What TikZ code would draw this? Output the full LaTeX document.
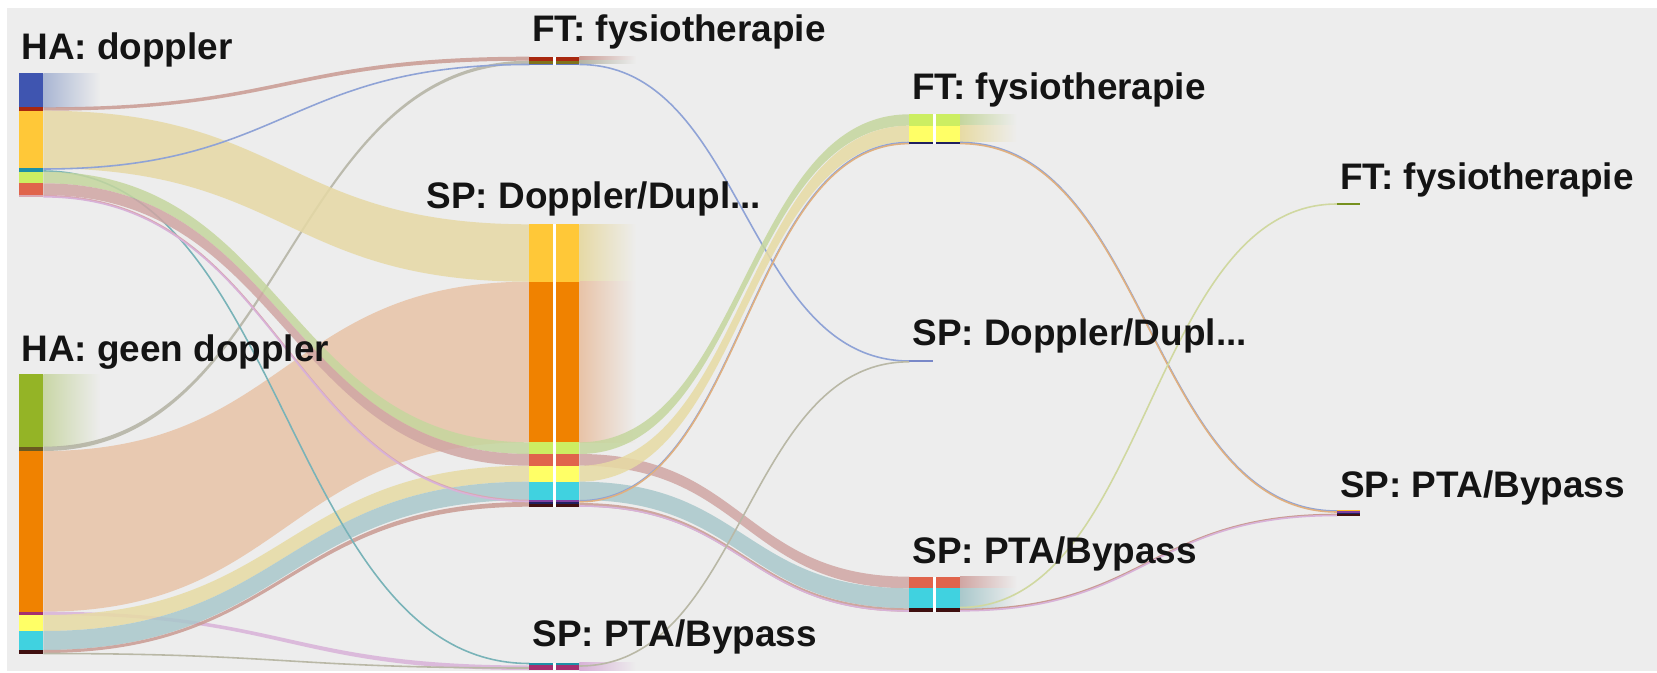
\documentclass[tikz,border=0pt]{standalone}
\usepackage{fontspec}
\setmainfont{Liberation Sans}
\usetikzlibrary{positioning}

% node colours
\definecolor{bgcol}{HTML}{EDEDED}
\definecolor{nblue}{HTML}{3F55B0}
\definecolor{ndred}{HTML}{A8280F}
\definecolor{ngold}{HTML}{FFC838}
\definecolor{nteal}{HTML}{1E90A6}
\definecolor{nlime}{HTML}{CCEE62}
\definecolor{ncoral}{HTML}{E0644C}
\definecolor{nolive}{HTML}{94B426}
\definecolor{ndolive}{HTML}{6A5A20}
\definecolor{norange}{HTML}{F08200}
\definecolor{nmagenta}{HTML}{A43070}
\definecolor{nyellow}{HTML}{FFFF66}
\definecolor{ncyan}{HTML}{40D2E0}
\definecolor{ndark}{HTML}{401010}
\definecolor{nnavy}{HTML}{202060}
\definecolor{npurple}{HTML}{8040A0}
% flow colours
\definecolor{fblue}{HTML}{A9B6D3}
\definecolor{fgreen}{HTML}{C9D6A6}
\definecolor{fred}{HTML}{C99A92}
\definecolor{folive}{HTML}{B3B2A2}
\definecolor{fgold}{HTML}{E6D9A5}
\definecolor{forange}{HTML}{E8C3A7}
\definecolor{fmagenta}{HTML}{D8B2D8}
\definecolor{flime}{HTML}{C5D69E}
\definecolor{fyellow}{HTML}{E7DBA4}
\definecolor{fcoral}{HTML}{D0A6A3}
\definecolor{fcyan}{HTML}{A9C8CB}
\definecolor{fgray}{HTML}{B9B8A6}
\definecolor{fteal}{HTML}{79B3B8}
\definecolor{fline}{HTML}{8FA3D6}
\definecolor{fpink}{HTML}{D9A7B3}
\definecolor{forline}{HTML}{E0B080}
\definecolor{folline}{HTML}{D0D8A0}

% band between two bars: x1, y1 top, y1 bottom, x2, y2 top, y2 bottom, colour
\newcommand{\flow}[7]{%
	\pgfmathsetmacro{\xm}{(#1+#4)/2}%
	\fill[#7, fill opacity=.85] (#1,#2) .. controls (\xm,#2) and (\xm,#5) .. (#4,#5)
	-- (#4,#6) .. controls (\xm,#6) and (\xm,#3) .. (#1,#3) -- cycle;}
% thin flow: x1, y1, x2, y2, colour
\newcommand{\thinflow}[5]{%
	\pgfmathsetmacro{\xm}{(#1+#3)/2}%
	\draw[#5, line width=.45pt] (#1,#2) .. controls (\xm,#2) and (\xm,#4) .. (#3,#4);}
% fading end of a flow: x, y top, y bottom, colour
\newcommand{\dropout}[4]{%
	\pgfmathsetmacro{\xe}{#1+57}%
	\shade[left color=#4, right color=bgcol] (#1,#2) rectangle (\xe,#3);}
% piece of a bar: x left, x right, y top, y bottom, colour
\newcommand{\segm}[5]{\fill[#5] (#1,#2) rectangle (#3,#4);}

\tikzset{lbl/.style={anchor=base west, inner sep=0pt,
		font=\bfseries\fontsize{10.5}{12}\selectfont, text=black!92}}

\begin{document}
\begin{tikzpicture}[x=0.01cm, y=-0.01cm]
	% background
	\fill[white] (0,0) rectangle (1657,673);
	\fill[bgcol] (7,8) rectangle (1657,671);
	
	% ends of the flows
	\dropout{43.3}{73.3}{107.3}{fblue}
	\dropout{43.3}{374.3}{446.7}{fgreen}
	\dropout{579.3}{56.7}{60.7}{fred}
	\dropout{579.3}{60.7}{64}{folive}
	\dropout{579.3}{224.3}{281.7}{fgold}
	\dropout{579.3}{281.7}{442.3}{forange}
	\dropout{579.3}{662.7}{670}{fmagenta}
	\dropout{960}{114.3}{125.7}{flime}
	\dropout{960}{125.7}{141.7}{fyellow}
	\dropout{960}{576.7}{588.3}{fcoral}
	\dropout{960}{588.3}{608.3}{fcyan}
	
	% HA: geen doppler -> second step
	\flow{43.3}{451}{611.7}{529.3}{281.7}{442.3}{forange}
	\flow{43.3}{446.7}{451}{529.3}{60.7}{64}{folive}
	\flow{43.3}{611.7}{615}{529.3}{665.5}{670}{fmagenta}
	\flow{43.3}{615}{631}{529.3}{465.7}{481.7}{fyellow}
	\flow{43.3}{631}{650}{529.3}{481.7}{500}{fcyan}
	\flow{43.3}{650}{653}{529.3}{502}{506.7}{fred}
	\thinflow{43.3}{653.5}{529.3}{668}{fgray}
	
	% HA: doppler -> second step
	\flow{43.3}{107.3}{110.7}{529.3}{56.7}{60.7}{fred}
	\flow{43.3}{110.7}{168.3}{529.3}{224.3}{281.7}{fgold}
	\thinflow{43.3}{169}{529.3}{64.5}{fline}
	\thinflow{43.3}{171}{529.3}{663.5}{fteal}
	\flow{43.3}{171.7}{183.3}{529.3}{442.3}{454}{flime}
	\flow{43.3}{183.3}{195}{529.3}{454}{465.7}{fcoral}
	\thinflow{43.3}{195.7}{529.3}{500.5}{fpink}
	\thinflow{43.3}{196.8}{529.3}{501.5}{fmagenta}
	
	% second step -> third step
	\thinflow{579.3}{64.5}{909.3}{361}{fline}
	\flow{579.3}{442.3}{454}{909.3}{114.3}{125.7}{flime}
	\flow{579.3}{454}{465.7}{909.3}{576.7}{588.3}{fcoral}
	\flow{579.3}{465.7}{481.7}{909.3}{125.7}{141.7}{fyellow}
	\flow{579.3}{481.7}{500}{909.3}{588.3}{608.3}{fcyan}
	\thinflow{579.3}{500.8}{909.3}{142.5}{fline}
	\thinflow{579.3}{501.8}{909.3}{143.6}{forline}
	\flow{579.3}{503}{506.7}{909.3}{608.3}{611.7}{fred}
	\thinflow{579.3}{506}{909.3}{611}{fmagenta}
	\thinflow{579.3}{666}{909.3}{361.8}{fgray}
	
	% third step -> fourth step
	\thinflow{960}{142.5}{1337}{511}{fline}
	\thinflow{960}{143.6}{1337}{512}{forline}
	\thinflow{960}{607.5}{1337}{204}{folline}
	\thinflow{960}{609.5}{1337}{514.5}{fred}
	\thinflow{960}{610.8}{1337}{515.5}{fmagenta}
	
	% first step: HA: doppler
	\segm{19}{73.3}{43.3}{107.3}{nblue}
	\segm{19}{107.3}{43.3}{110.7}{ndred}
	\segm{19}{110.7}{43.3}{168.3}{ngold}
	\segm{19}{168.3}{43.3}{171.7}{nteal}
	\segm{19}{171.7}{43.3}{183.3}{nlime}
	\segm{19}{183.3}{43.3}{195}{ncoral}
	\segm{19}{195}{43.3}{197.3}{fpink}
	% first step: HA: geen doppler
	\segm{19}{374.3}{43.3}{446.7}{nolive}
	\segm{19}{446.7}{43.3}{451}{ndolive}
	\segm{19}{451}{43.3}{611.7}{norange}
	\segm{19}{611.7}{43.3}{615}{nmagenta}
	\segm{19}{615}{43.3}{631}{nyellow}
	\segm{19}{631}{43.3}{650}{ncyan}
	\segm{19}{650}{43.3}{654}{ndark}
	
	% second step: FT
	\segm{529.3}{56.7}{579.3}{60.7}{ndred}
	\segm{529.3}{60.7}{579.3}{64}{ndolive!85!yellow}
	\segm{529.3}{64}{579.3}{65.2}{nblue!80}
	% second step: SP Doppler
	\segm{529.3}{224.3}{579.3}{281.7}{ngold}
	\segm{529.3}{281.7}{579.3}{442.3}{norange}
	\segm{529.3}{442.3}{579.3}{454}{nlime}
	\segm{529.3}{454}{579.3}{465.7}{ncoral}
	\segm{529.3}{465.7}{579.3}{481.7}{nyellow}
	\segm{529.3}{481.7}{579.3}{500}{ncyan}
	\segm{529.3}{500}{579.3}{502}{npurple}
	\segm{529.3}{502}{579.3}{504}{nnavy}
	\segm{529.3}{504}{579.3}{506.7}{ndark}
	% second step: SP PTA
	\segm{529.3}{662.7}{579.3}{665}{nteal}
	\segm{529.3}{665}{579.3}{670}{nmagenta}
	% gaps between in and out
	\fill[white] (552.7,56.7) rectangle (556,65.2);
	\fill[white] (552.7,224.3) rectangle (556,506.7);
	\fill[white] (552.7,662.7) rectangle (556,670);
	
	% third step
	\segm{909.3}{114.3}{960}{125.7}{nlime}
	\segm{909.3}{125.7}{960}{141.7}{nyellow}
	\segm{909.3}{141.7}{960}{144.3}{nnavy}
	\segm{909.3}{360}{932.7}{362}{nblue!70}
	\segm{909.3}{576.7}{960}{588.3}{ncoral}
	\segm{909.3}{588.3}{960}{608.3}{ncyan}
	\segm{909.3}{608.3}{960}{611.7}{ndark}
	\fill[white] (932.7,114.3) rectangle (936,144.3);
	\fill[white] (932.7,576.7) rectangle (936,611.7);
	
	% fourth step
	\segm{1337}{203}{1360}{205}{nolive!80!black}
	\segm{1337}{509.5}{1360}{511}{ngold!80!orange}
	\segm{1337}{511}{1360}{512.5}{npurple}
	\segm{1337}{512.5}{1360}{514}{nnavy}
	\segm{1337}{514}{1360}{516}{ndark}
	
	% labels
	\node[lbl] (hadop) at (20.7,60) {HA: doppler};
	\node[lbl] (hageen) at (20.7,361.7) {HA: geen doppler};
	\node[lbl] (ftA) at (531.7,41.7) {FT: fysiotherapie};
	\node[lbl] (spdupA) at (426,208.3) {SP: Doppler/Dupl...};
	\node[lbl] (sbptaA) at (531.7,646.7) {SP: PTA/Bypass};
	\node[lbl] (ftB) at (911.7,100) {FT: fysiotherapie};
	\node[lbl] (spdupB) at (911.7,345) {SP: Doppler/Dupl...};
	\node[lbl] (sbptaB) at (911.7,563.3) {SP: PTA/Bypass};
	\node[lbl] (ftC) at (1339.5,190) {FT: fysiotherapie};
	\node[lbl] (sbptaC) at (1339.5,497) {SP: PTA/Bypass};
\end{tikzpicture}
\end{document}
